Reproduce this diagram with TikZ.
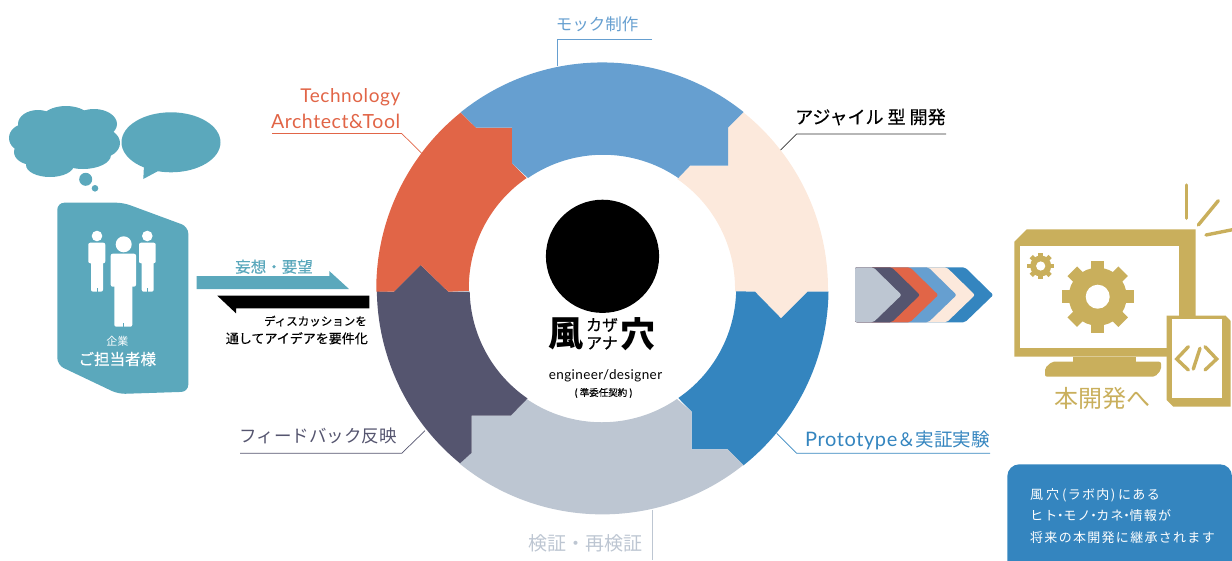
\documentclass[tikz,border=0pt]{standalone}
\usepackage{fontspec}
\setmainfont[LetterSpace=3]{Lato}
\newfontfamily\jp{Noto Sans CJK JP}
\newfontfamily\jpmed[FakeBold=0.35]{Noto Sans CJK JP}
\newfontfamily\jpwide[LetterSpace=10]{Noto Sans CJK JP}
\usetikzlibrary{shapes, positioning}

\definecolor{ringblue}{HTML}{669FD0}
\definecolor{ringcream}{HTML}{FCE9DC}
\definecolor{ringdeep}{HTML}{3485BF}
\definecolor{ringgray}{HTML}{BDC6D2}
\definecolor{ringdark}{HTML}{55556F}
\definecolor{ringred}{HTML}{E16547}
\definecolor{teal}{HTML}{5BA8BC}
\definecolor{gold}{HTML}{C9AF5C}

\newcommand{\fs}[1]{\fontsize{#1}{#1}\selectfont}

\tikzset{
  label/.style={inner sep=0pt, align=right},
  leader/.style={line width=0.7pt},
  person/.style={fill=white, rounded corners=2pt},
  gear/.style={gold, line cap=butt},
  sign/.style={gold, line width=3.4pt, line cap=round},
}

\begin{document}
\begin{tikzpicture}[x=1pt,y=-1pt]

\clip (0,0) rectangle (1232,560);
\useasboundingbox (0,0) rectangle (1232,560);

%% draw the ring
\fill[ringcream] (743.3,112.3) arc[start angle=-51.3,end angle=0.76,radius=226] -- (807.7,291.7) -- (781,318.3) -- (755,291.7) -- (735,291.7) arc[start angle=1.3,end angle=-55.6,radius=133] -- (690,165.7) -- (728,165.7) -- (728,127.7) -- cycle;
\fill[ringdeep] (828.5,291.7) arc[start angle=0.76,end angle=51.4,radius=226] -- (727.7,449.3) -- (691.7,449.3) -- (691.7,411.7) -- (678.3,398) arc[start angle=55.6,end angle=1.3,radius=133] -- (755,291.7) -- (781,318.3) -- (807.7,291.7) -- cycle;
\fill[ringgray] (743.3,465) arc[start angle=51.4,end angle=129.2,radius=226] -- (471.7,452.7) -- (471.7,415.7) -- (510.7,415.7) -- (526.7,399) arc[start angle=124.4,end angle=55.6,radius=133] -- (691.7,411.7) -- (691.7,449.3) -- (727.7,449.3) -- cycle;
\fill[ringdark] (460,463.3) arc[start angle=129.2,end angle=179.24,radius=226] -- (394,291.7) -- (420.7,265) -- (448.3,291.7) -- (469.7,291.7) arc[start angle=178.7,end angle=124.4,radius=133] -- (510.7,415.7) -- (471.7,415.7) -- (471.7,452.7) -- cycle;
\fill[ringred] (376.3,291.7) arc[start angle=179.24,end angle=231.2,radius=226] -- (476,127.7) -- (512,127.7) -- (512,163.3) -- (526.7,178) arc[start angle=235.6,end angle=178.7,radius=133] -- (448.3,291.7) -- (420.7,265) -- (394,291.7) -- cycle;
\fill[ringblue] (460.7,112.3) arc[start angle=-128.8,end angle=-51.3,radius=226] -- (728,127.7) -- (728,165.7) -- (690,165.7) -- (678.3,178) arc[start angle=-55.6,end angle=-124.4,radius=133] -- (512,163.3) -- (512,127.7) -- (476,127.7) -- cycle;

%% draw the logo
\fill[black] (602.5,256.3) circle (56.6);
\node[label] (logokaze) at (565.5,334) {\fs{35}\jp\bfseries 風};
\node[label] (logoana) at (638,334) {\fs{35}\jp\bfseries 穴};
\node[label] (logokana1) at (602,325) {\fs{16}\jpmed カザ};
\node[label] (logokana2) at (602,343) {\fs{16}\jpmed アナ};
\node[label] (engineer) at (605.5,376) {\fs{13.5}engineer/designer};
\node[label] (contract) at (603.5,393) {\fs{9.5}\jpmed ( 準委任契約 )};

%% labels round the ring
\node[label, text=ringblue] (mock) at (597,24) {\fs{16.5}\jp モック制作};
\node[label, text=ringred, anchor=east] (tech1) at (400.5,97.5) {\fs{19}Technology};
\node[label, text=ringred, anchor=east] (tech2) at (400.5,121) {\fs{19.5}Archtect\&Tool};
\node[label, anchor=west] (agile) at (795,117) {\fs{18}\jpmed アジャイル 型 開発};
\node[label, text=ringdeep, anchor=east] (proto) at (990,440) {\fs{20}Prototype{\jp\fs{18.5}＆実証実験}};
\node[label, text=ringdark, anchor=east] (feedback) at (397,436) {\fs{17.5}\jp フィードバック反映};
\node[label, text=ringgray] (verify) at (585,543) {\fs{19}\jp 検証・再検証};

%% leaders
\coordinate (mockA) at (652,39);
\coordinate (mockB) at (557,39);
\coordinate (mockC) at (557,66);
\coordinate (techA) at (272,133.5);
\coordinate (techB) at (401.7,133.5);
\coordinate (techC) at (421.7,153.3);
\coordinate (agileA) at (946,134);
\coordinate (agileB) at (796.7,134);
\coordinate (agileC) at (780.7,150);
\coordinate (protoA) at (990,453.3);
\coordinate (protoB) at (796.7,453.3);
\coordinate (protoC) at (776.7,433.3);
\coordinate (backA) at (240,453.3);
\coordinate (backB) at (401.7,453.3);
\coordinate (backC) at (425,430.7);
\coordinate (verifyA) at (652.7,510);
\coordinate (verifyB) at (652.7,560);

\draw[leader, ringblue] (mockA) -- (mockB) -- (mockC);
\draw[leader, ringred] (techA) -- (techB) -- (techC);
\draw[leader, black!80] (agileA) -- (agileB) -- (agileC);
\draw[leader, ringdeep] (protoA) -- (protoB) -- (protoC);
\draw[leader, ringdark] (backA) -- (backB) -- (backC);
\draw[leader, ringgray] (verifyA) -- (verifyB);

%% cloud and speech bubble
\foreach \cx/\cy/\rx/\ry in {66/120/25/14,38/124/20/14,94/124/23/15,25/138/16/14,100/143/20/15,33/152/19/13,50/165/24/12,83/155/28/14,60/142/42/24}
    \fill[teal] (\cx,\cy) ellipse [x radius=\rx, y radius=\ry];
\fill[teal] (85.7,179.3) circle (6.5);
\fill[teal] (95,188.3) circle (3.3);
\fill[teal] (171,142.3) ellipse [x radius=49.5, y radius=30];
\fill[teal] (144,165) -- (143.3,179) -- (160,170) -- cycle;

%% company card
\fill[teal, rounded corners=7pt] (57.3,202.7) -- (123.3,202.7) -- (188.3,226.7) -- (188.3,391.7) -- (118.3,394) -- (57.3,365) -- cycle;

% people
\fill[white] (97,236) circle (5.3);
\fill[white] (123.7,244.3) circle (8);
\fill[white] (147.3,236) circle (5.3);
\fill[person] (88.3,242.7) rectangle (105.3,263.3);
\fill[person] (91,250) rectangle (103,291.7);
\fill[person] (110.7,253.7) rectangle (136,286.7);
\fill[person] (114.3,270) rectangle (132.3,326.7);
\fill[person] (139,242.7) rectangle (155.7,263.3);
\fill[person] (141.7,250) rectangle (153.7,291.7);
\foreach \lx/\ly in {97/288,123.3/323,147.7/288}
    \draw[teal, line width=0.6pt] (\lx,\ly) -- (\lx,\ly+4);

\node[label, text=white] (company) at (117.3,341) {\fs{11}\jp 企業};
\node[label, text=white] (tantou) at (117.3,359) {\fs{15.5}\jpmed ご担当者様};

%% two arrows
\fill[teal] (196.7,276) -- (329.3,276) -- (329.3,271) -- (349,289) -- (196.7,289) -- cycle;
\fill[black] (369.3,295.7) -- (369.3,308.3) -- (236,308.3) -- (236,313.3) -- (217.3,295.7) -- cycle;
\node[label, text=teal] (wish) at (274,266.7) {\fs{15.5}\jpmed 妄想・要望};
\node[label, anchor=east] (talk1) at (367,321) {\fs{11.5}\jpmed ディスカッションを};
\node[label, anchor=east] (talk2) at (368,338.3) {\fs{13}\jpmed 通してアイデアを要件化};

%% chevrons
\foreach \tipx/\col in {965/ringdeep,946.7/ringcream,928.3/ringblue,910/ringred,891.7/ringdark,873.3/ringgray}
    \fill[\col, rounded corners=2pt] (855,267.3) -- (\tipx,267.3) -- ({\tipx+28.3},295) -- (\tipx,322.3) -- (855,322.3) -- cycle;

%% monitor
\fill[gold] (1014.3,241.7) -- (1026.7,229.3) -- (1195.7,229.3) -- (1195.7,356.7) -- (1014.3,356.7) -- cycle;
\fill[white] (1020,246) rectangle (1179,347.7);
\fill[gold] (1073.3,356.7) rectangle (1135.7,362);
\fill[gold, rounded corners=2pt] (1052,361.7) -- (1161,361.7) -- (1161,370) -- (1155,376.7) -- (1045,376.7) -- (1045,368) -- cycle;

% gears
\begin{scope}[shift={(1097.7,296.7)}]
\fill[gold] (0,0) circle (29);
\foreach \a in {0,45,...,315}
    \draw[gear, line width=13.5pt] (\a:22) -- (\a:36);
\fill[white] (0,0) circle (12);
\end{scope}
\begin{scope}[shift={(1040.7,266)}]
\fill[gold] (0,0) circle (10.5);
\foreach \a in {0,45,...,315}
    \draw[gear, line width=4.6pt] (\a:8) -- (\a:13.3);
\fill[white] (0,0) circle (4.6);
\end{scope}

% tablet
\fill[gold] (1166.7,315.7) -- (1225.7,315.7) -- (1230.7,321) -- (1230.7,406.7) -- (1173.3,406.7) -- (1166.7,400) -- cycle;
\fill[white] (1171.7,319) rectangle (1222.3,398.3);
\draw[sign] (1188.3,346.7) -- (1176.7,359) -- (1188.3,370);
\draw[sign] (1205,346.7) -- (1216.7,359) -- (1205,370);
\draw[sign] (1200,348.3) -- (1193.3,369);

% rays
\draw[sign] (1186.3,185) -- (1186.3,218.3);
\draw[sign] (1218.3,200.7) -- (1198.3,225);
\draw[sign] (1206,235) -- (1236,229);

\node[label, text=gold] (honkaihatsu) at (1102.7,398) {\fs{24}\jp 本開発へ};

%% inherit box
\fill[ringdeep, rounded corners=12pt] (1007.3,464.3) rectangle (1232,590);
\node[label, text=white, anchor=west] (box1) at (1030,495) {\fs{13}\jpwide 風\kern3pt 穴\kern3pt(ラボ内)\kern3pt にある};
\node[label, text=white, anchor=west] (box2) at (1030,516) {\fs{13}\jpwide ヒト\kern-3.6pt・\kern-3.6pt モノ\kern-3.6pt・\kern-3.6pt カネ\kern-3.6pt・\kern-3.6pt 情報が};
\node[label, text=white, anchor=west] (box3) at (1030,537.7) {\fs{13}\jpwide 将来の本開発に継承されます};

\end{tikzpicture}
\end{document}
